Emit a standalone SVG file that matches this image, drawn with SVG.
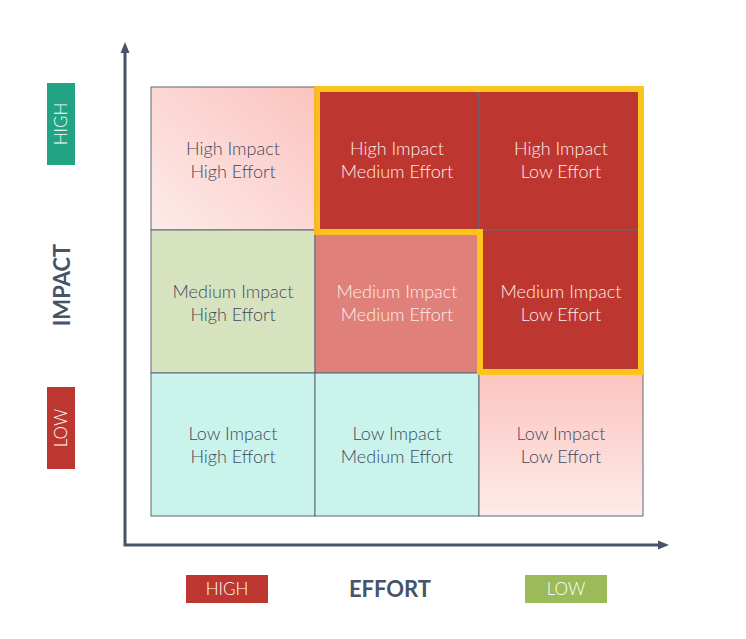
<svg xmlns="http://www.w3.org/2000/svg" width="746" height="639" viewBox="0 0 746 639">
<defs>
<style>
.cell{stroke:#5d6879;stroke-width:1}
.t{font-family:Lato,"Liberation Sans",sans-serif;font-weight:300;font-size:18px;text-anchor:middle}
.dk{fill:#3f4a5b}
.lt{fill:#fdeceb}
.lab{font-family:Lato,"Liberation Sans",sans-serif;font-weight:300;font-size:17px;text-anchor:middle;fill:#ffffff}
.ax{font-family:Lato,"Liberation Sans",sans-serif;font-weight:700;font-size:22px;text-anchor:middle;fill:#465469}
.axis{fill:none;stroke:#465469;stroke-width:3}
</style>
<linearGradient id="gTL" x1="1" y1="0" x2="0" y2="1">
<stop offset="0" stop-color="#fbc3be"/>
<stop offset="1" stop-color="#fdebe9"/>
</linearGradient>
<linearGradient id="gBR" x1="0" y1="0" x2="0" y2="1">
<stop offset="0" stop-color="#fbc4bf"/>
<stop offset="1" stop-color="#feebe9"/>
</linearGradient>
<linearGradient id="gY" gradientUnits="userSpaceOnUse" x1="313" y1="0" x2="322" y2="0">
<stop offset="0" stop-color="#f8b12a"/>
<stop offset="1" stop-color="#fcc51d"/>
</linearGradient>
</defs>
<rect width="746" height="639" fill="#ffffff"/>

<g id="axes">
<path class="axis" d="M125,50 V545 H661"/>
<polygon points="125,42 120.5,53 129.5,53" fill="#465469"/>
<polygon points="669,545 658,540.5 658,549.5" fill="#465469"/>
</g>

<g id="cell-high-high">
<rect class="cell" x="151" y="87" width="164" height="143" fill="url(#gTL)"/>
<text class="t dk" x="233" y="155">High Impact</text>
<text class="t dk" x="233" y="178">High Effort</text>
</g>
<g id="cell-high-medium">
<rect class="cell" x="315" y="87" width="164" height="143" fill="#bd3730"/>
<text class="t lt" x="397" y="155">High Impact</text>
<text class="t lt" x="397" y="178">Medium Effort</text>
</g>
<g id="cell-high-low">
<rect class="cell" x="479" y="87" width="164" height="143" fill="#bd3730"/>
<text class="t lt" x="561" y="155">High Impact</text>
<text class="t lt" x="561" y="178">Low Effort</text>
</g>
<g id="cell-medium-high">
<rect class="cell" x="151" y="230" width="164" height="143" fill="#d7e3bf"/>
<text class="t dk" x="233" y="298">Medium Impact</text>
<text class="t dk" x="233" y="321">High Effort</text>
</g>
<g id="cell-medium-medium">
<rect class="cell" x="315" y="230" width="164" height="143" fill="#df807a"/>
<text class="t lt" x="397" y="298">Medium Impact</text>
<text class="t lt" x="397" y="321">Medium Effort</text>
</g>
<g id="cell-medium-low">
<rect class="cell" x="479" y="230" width="164" height="143" fill="#bd3730"/>
<text class="t lt" x="561" y="298">Medium Impact</text>
<text class="t lt" x="561" y="321">Low Effort</text>
</g>
<g id="cell-low-high">
<rect class="cell" x="151" y="373" width="164" height="143" fill="#c9f3eb"/>
<text class="t dk" x="233" y="440">Low Impact</text>
<text class="t dk" x="233" y="463">High Effort</text>
</g>
<g id="cell-low-medium">
<rect class="cell" x="315" y="373" width="164" height="143" fill="#c9f3eb"/>
<text class="t dk" x="397" y="440">Low Impact</text>
<text class="t dk" x="397" y="463">Medium Effort</text>
</g>
<g id="cell-low-low">
<rect class="cell" x="479" y="373" width="164" height="143" fill="url(#gBR)"/>
<text class="t dk" x="561" y="440">Low Impact</text>
<text class="t dk" x="561" y="463">Low Effort</text>
</g>

<g id="highlight">
<path d="M317,89 H641 V372 H480 V232 H317 Z" fill="none" stroke="url(#gY)" stroke-width="6" stroke-linejoin="miter"/>
</g>

<g id="impact-high">
<rect x="47" y="83" width="28" height="82" fill="#22a383"/>
<text class="lab" transform="translate(67,124) rotate(-90)">HIGH</text>
</g>
<g id="impact-label">
<text class="ax" transform="translate(70,285) rotate(-90)">IMPACT</text>
</g>
<g id="impact-low">
<rect x="47" y="387" width="28" height="82" fill="#bd3730"/>
<text class="lab" transform="translate(67,428) rotate(-90)">LOW</text>
</g>

<g id="effort-high">
<rect x="186" y="575" width="82" height="28" fill="#bd3730"/>
<text class="lab" x="227" y="595">HIGH</text>
</g>
<g id="effort-label">
<text class="ax" x="390" y="597">EFFORT</text>
</g>
<g id="effort-low">
<rect x="525" y="575" width="82" height="28" fill="#9bbb59"/>
<text class="lab" x="566" y="595">LOW</text>
</g>
</svg>
